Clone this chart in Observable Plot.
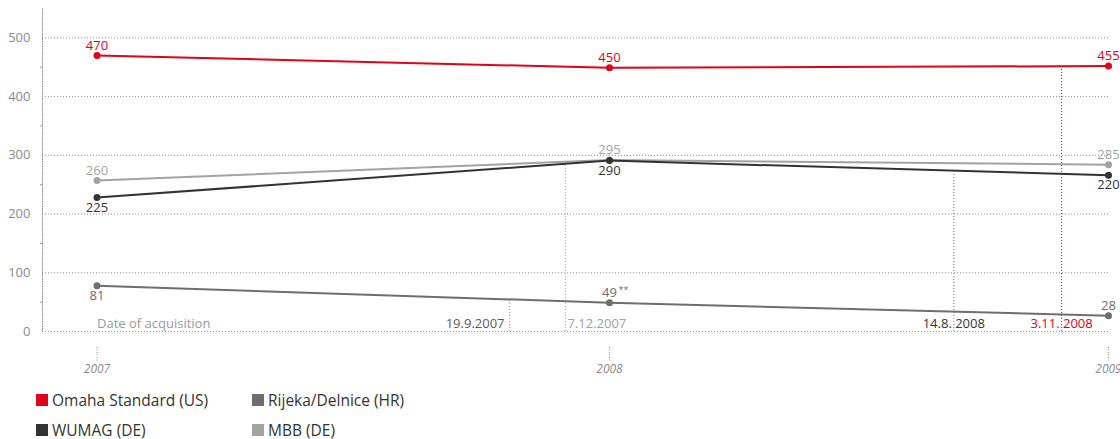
<!DOCTYPE html>
<html>
<head>
<meta charset="utf-8">
<script src="https://cdn.jsdelivr.net/npm/d3@7"></script>
<script src="https://cdn.jsdelivr.net/npm/@observablehq/plot@0.6"></script>
<style>
  html, body { margin: 0; padding: 0; background: #fff; }
  body { width: 1120px; height: 439px; overflow: hidden; font-family: "Open Sans", sans-serif; }
  #legend { position: relative; height: 59px; }
  .item { position: absolute; display: flex; align-items: center; font-size: 15.5px; color: #333; white-space: nowrap; }
  .sw { width: 12px; height: 12px; margin-right: 4px; }
</style>
</head>
<body>
<div id="chart"></div>
<div id="legend"></div>
<script>
// ---- data ----
const years = [2007, 2008, 2009];
const seriesNames = ["Omaha Standard (US)", "Rijeka/Delnice (HR)", "WUMAG (DE)", "MBB (DE)"];
const seriesColors = ["#e2001a", "#6e6e6e", "#333333", "#a3a3a3"];

const omahaValues = [470, 449, 452];
const omahaLabels = ["470", "450", "455"];
const rijekaValues = [78, 49, 27];
const rijekaLabels = ["81", "49", "28"];
const rijekaNotes = ["", "**", ""];
const wumagValues = [228, 291, 266];
const wumagLabels = ["225", "290", "220"];
const mbbValues = [257, 292, 284];
const mbbLabels = ["260", "295", "285"];

const acqTitle = "Date of acquisition";
const acqLabels = ["19.9.2007", "7.12.2007", "14.8. 2008", "3.11. 2008"];
const acqX = [2007.805, 2007.914, 2008.69, 2008.906];
const acqTop = [56, 286, 270, 449];
const acqSeries = ["Rijeka/Delnice (HR)", "MBB (DE)", "WUMAG (DE)", "Omaha Standard (US)"];

const yTicks = [0, 100, 200, 300, 400, 500];
const yMinorTicks = [50, 150, 250, 350, 450];

// ---- build tables ----
const seriesData = {
  "Omaha Standard (US)": {values: omahaValues, labels: omahaLabels},
  "Rijeka/Delnice (HR)": {values: rijekaValues, labels: rijekaLabels, notes: rijekaNotes},
  "WUMAG (DE)": {values: wumagValues, labels: wumagLabels},
  "MBB (DE)": {values: mbbValues, labels: mbbLabels}
};
const drawOrder = ["MBB (DE)", "Rijeka/Delnice (HR)", "WUMAG (DE)", "Omaha Standard (US)"];
const points = drawOrder.flatMap(s => years.map((year, i) => ({
  series: s, year, value: seriesData[s].values[i], label: seriesData[s].labels[i],
  note: seriesData[s].notes ? seriesData[s].notes[i] : "", i
})));
// label placement (style): above = true
const above = d => d.series === "WUMAG (DE)" ? false : d.series === "Rijeka/Delnice (HR)" ? d.i > 0 : true;
const colorOf = s => seriesColors[seriesNames.indexOf(s)];

const acq = acqLabels.map((label, i) => ({label, x: acqX[i], top: acqTop[i], series: acqSeries[i], i}));
// styles for acquisition markers
const acqTextColor = ["#5a5a5a", "#a0a0a0", "#333333", "#e2001a"];
const acqRuleColor = ["#9a9a9a", "#a8a8a8", "#777777", "#e2001a"];
const acqAnchor = ["end", "start", "middle", "middle"];
const acqDx = [-5, 2, 0, 0];

const acqMarks = acq.flatMap((d, i) => [
  Plot.ruleX([d], {x: "x", y1: 0, y2: "top", stroke: acqRuleColor[i], strokeDasharray: "1,2", strokeWidth: 1}),
  Plot.text([d], {x: "x", y: 0, text: "label", dy: -8, dx: acqDx[i], fill: acqTextColor[i], fontSize: 13, textAnchor: acqAnchor[i]})
]);

const chart = Plot.plot({
  width: 1120,
  height: 380,
  marginLeft: 42,
  marginRight: 10,
  marginTop: 8,
  marginBottom: 49,
  style: {fontFamily: "'Open Sans', sans-serif", fontSize: "13px", background: "#fff"},
  x: {type: "linear", domain: years, range: [96.5, 609, 1108]},
  y: {domain: [0, 550]},
  color: {domain: seriesNames, range: seriesColors},
  marks: [
    Plot.gridY(yTicks, {stroke: "#8c8c8c", strokeOpacity: 1, strokeDasharray: "1,2"}),
    Plot.frame({anchor: "left", stroke: "#9a9a9a", strokeDasharray: "1,1.5"}),
    Plot.axisY(yMinorTicks, {tickSize: 2, tickFormat: () => "", stroke: "#999", label: null}),
    Plot.axisY(yTicks, {tickSize: 0, tickPadding: 12, fontSize: 13, color: "#8a8a8a", label: null}),
    Plot.axisX(years, {tickSize: 14, tickPadding: 3, dy: 16, tickFormat: d => String(d), fontStyle: "italic", fontSize: 12, color: "#8c8c8c", strokeDasharray: "1,1.5", label: null}),
    Plot.text([acqTitle], {x: years[0], y: 0, text: d => d, textAnchor: "start", dy: -8, fill: "#9a9a9a", fontSize: 13}),
    ...acqMarks,
    // lines and points
    Plot.line(points, {x: "year", y: "value", z: "series", stroke: "series", strokeWidth: 2}),
    Plot.dot(points, {x: "year", y: "value", fill: "series", r: 3.5}),
    Plot.text(points.filter(above), {x: "year", y: "value", text: "label", fill: "series", dy: -10, fontSize: 13}),
    Plot.text(points.filter(d => !above(d)), {x: "year", y: "value", text: "label", fill: "series", dy: 10, fontSize: 13}),
    Plot.text(points.filter(d => d.note), {x: "year", y: "value", text: "note", fill: "series", dy: -13, dx: 9, textAnchor: "start", fontSize: 9})
  ]
});
document.getElementById("chart").appendChild(chart);

// legend
const legend = document.getElementById("legend");
const legendPos = [[36, 13], [252, 13], [36, 43], [252, 43]];
const legendOrder = ["Omaha Standard (US)", "Rijeka/Delnice (HR)", "WUMAG (DE)", "MBB (DE)"];
legendOrder.forEach((s, i) => {
  const el = document.createElement("div");
  el.className = "item";
  el.style.left = legendPos[i][0] + "px";
  el.style.top = (legendPos[i][1] - 4) + "px";
  el.innerHTML = `<span class="sw" style="background:${colorOf(s)}"></span><span>${s}</span>`;
  legend.appendChild(el);
});
</script>
</body>
</html>
